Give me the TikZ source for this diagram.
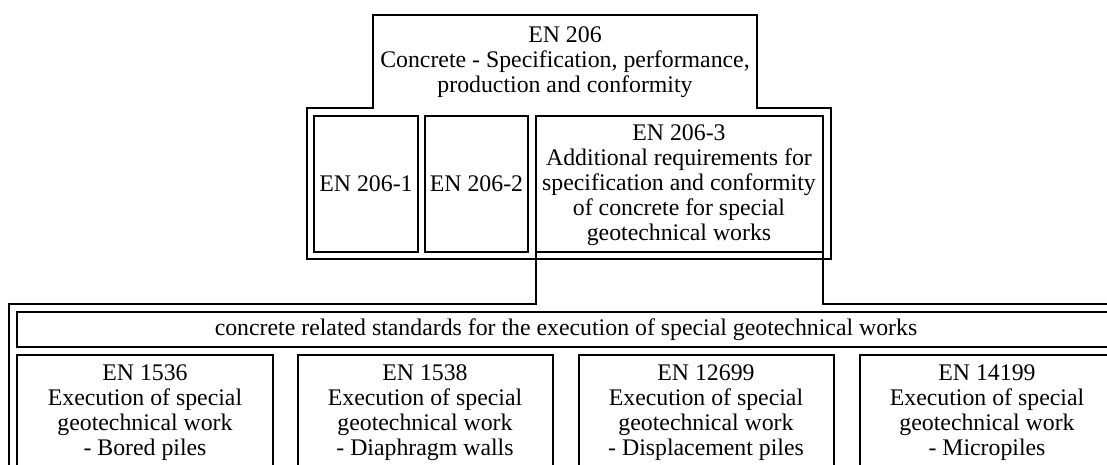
\documentclass[tikz,border=0pt]{standalone}
\usepackage{fontspec}
\setmainfont{Liberation Serif}
\begin{document}
\begin{tikzpicture}[x=0.5pt, y=-0.5pt, line width=0.8pt,
    lbl/.style={align=center, inner sep=0pt, font=\fontsize{11.9}{12.5}\selectfont}]
    \clip (0, 0) rectangle (1107, 465);
    % EN 206 and its parts
    \draw (373, 15) -- (757, 15) -- (757, 108) -- (831, 108) -- (831, 259)
          -- (307, 259) -- (307, 108) -- (373, 108) -- cycle;
    \draw (565, 62) node (en) [lbl] {EN 206\\Concrete - Specification, performance,\\production and conformity};
    \draw (314, 116) rectangle (418, 252) node (enone) [lbl, pos=.5] {EN 206-1}
          (425, 116) rectangle (528, 252) node (entwo) [lbl, pos=.5] {EN 206-2}
          (536, 116) rectangle (823, 252);
    \draw (679, 185) node (enthree) [lbl] {EN 206-3\\Additional requirements for\\specification and conformity\\of concrete for special\\geotechnical works};
    % related execution standards
    \draw (536, 252) -- (536, 304) -- (9, 304) -- (9, 520) -- (1123, 520)
          -- (1123, 304) -- (823, 304) -- (823, 252);
    \draw (17, 312) rectangle (1115, 347) node (rel) [lbl, pos=.5] {concrete related standards for the execution of special geotechnical works};
    \draw (17, 355) rectangle (273, 520)
          (298, 355) rectangle (553, 520)
          (579, 355) rectangle (834, 520)
          (860, 355) rectangle (1115, 520);
    \draw (145, 413) node (bored) [lbl] {EN 1536\\Execution of special\\geotechnical work\\- Bored piles}
          (425, 413) node (walls) [lbl] {EN 1538\\Execution of special\\geotechnical work\\- Diaphragm walls}
          (706, 413) node (displ) [lbl] {EN 12699\\Execution of special\\geotechnical work\\- Displacement piles}
          (987, 413) node (micro) [lbl] {EN 14199\\Execution of special\\geotechnical work\\- Micropiles};
  \end{tikzpicture}
\end{document}
